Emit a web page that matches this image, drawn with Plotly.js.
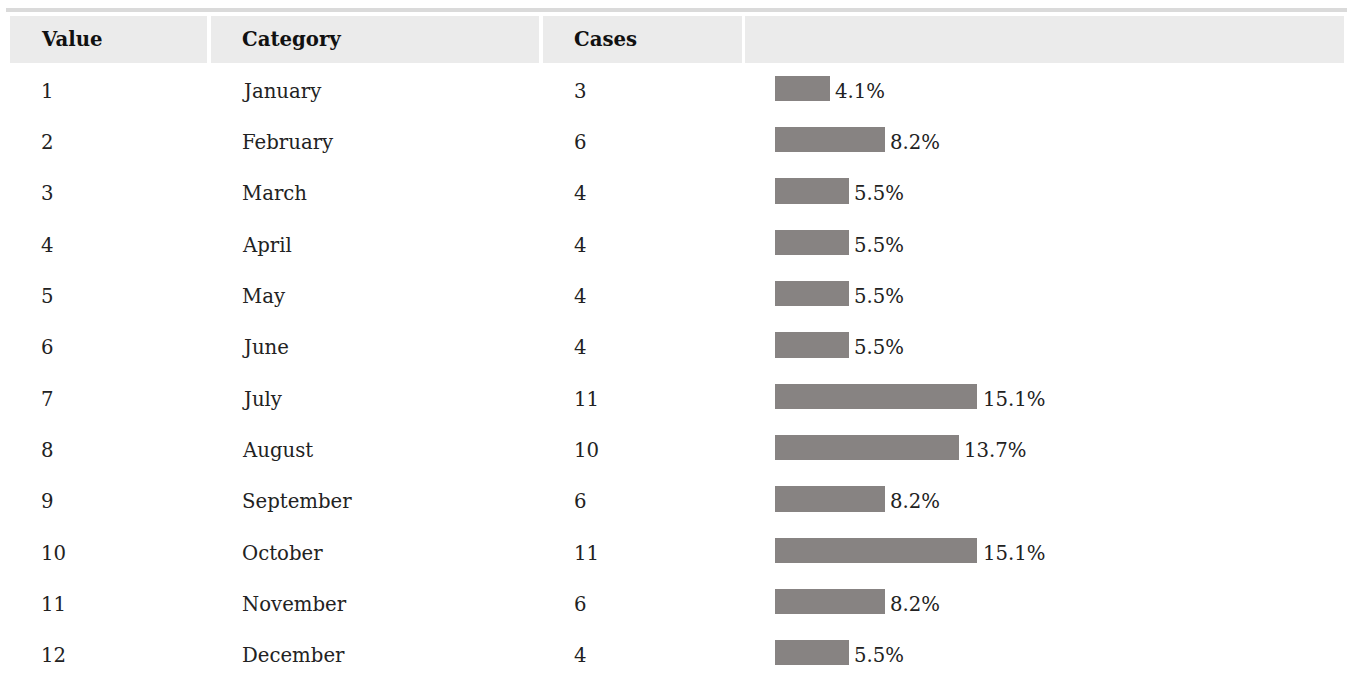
<!DOCTYPE html>
<html>
<head>
<meta charset="utf-8">
<script src="https://cdn.plot.ly/plotly-3.0.1.min.js"></script>
<style>html,body{margin:0;padding:0;background:#fff;}#chart{width:1347px;height:678px;}</style>
</head>
<body>
<div id="chart"></div>
<script>
const values = [1,2,3,4,5,6,7,8,9,10,11,12];
const categories = ["January","February","March","April","May","June","July","August","September","October","November","December"];
const cases = [3,6,4,4,4,4,11,10,6,11,6,4];
const percents = [4.1,8.2,5.5,5.5,5.5,5.5,15.1,13.7,8.2,15.1,8.2,5.5];
const headers = ["Value","Category","Cases",""];

const W = 1347, H = 678;
const FONT = "DejaVu Serif";
const FS = 19.7;
const rows = values.map((v,i)=>i);

// column geometry (pixels)
const colX = [10,211,543,745];
const colEnd = [207,539,742,1344];
const textX = [38.5,240,571.5];

const shapes = [];
shapes.push({type:'rect', xref:'x2', yref:'paper', x0:6, x1:1347, y0:1-8/H, y1:1-12/H, fillcolor:'#dadada', line:{width:0}, layer:'below'});
for (let c=0;c<4;c++){
  shapes.push({type:'rect', xref:'x2', yref:'paper', x0:colX[c], x1:colEnd[c], y0:1-16/H, y1:1-63/H, fillcolor:'#ebebeb', line:{width:0}, layer:'below'});
}

const annotations = [];
for (let c=0;c<3;c++){
  annotations.push({xref:'x2', yref:'paper', x:textX[c], y:1-40/H, xanchor:'left', yanchor:'middle', text:'<b>'+headers[c]+'</b>', showarrow:false, font:{family:FONT, size:FS, color:'#111'}});
}
const cols = [values.map(String), categories, cases.map(String)];
for (let c=0;c<3;c++){
  rows.forEach((r,i)=>{
    annotations.push({xref:'x2', yref:'y', x:textX[c], y:r, yshift:-3, xanchor:'left', yanchor:'middle', text:cols[c][i], showarrow:false, font:{family:FONT, size:FS, color:'#222'}});
  });
}
rows.forEach((r,i)=>{
  annotations.push({xref:'x', yref:'y', x:percents[i], y:r, yshift:-3, xshift:3.5, xanchor:'left', yanchor:'middle', text:percents[i].toFixed(1)+'%', showarrow:false, font:{family:FONT, size:FS, color:'#222'}});
});

const trace = {
  type:'bar', orientation:'h', x:percents, y:rows, width:0.493,
  marker:{color:'#878382', line:{width:0}}, hoverinfo:'skip', xaxis:'x', yaxis:'y'
};
const dummy = {type:'scatter', x:[0], y:[0], mode:'markers', marker:{opacity:0}, xaxis:'x2', yaxis:'y', hoverinfo:'skip', showlegend:false};

const pxPerRow = 51.32, firstCenter = 88.3;
const yTop = -firstCenter/pxPerRow, yBot = (H-firstCenter)/pxPerRow;

const layout = {
  width:W, height:H, margin:{l:0,r:0,t:0,b:0}, showlegend:false,
  paper_bgcolor:'#fff', plot_bgcolor:'rgba(0,0,0,0)',
  xaxis:{domain:[775/W, (775+40*13.4)/W], range:[0,40], visible:false, fixedrange:true},
  xaxis2:{domain:[0,1], range:[0,W], visible:false, anchor:'y', fixedrange:true},
  yaxis:{range:[yBot,yTop], visible:false, fixedrange:true},
  shapes:shapes, annotations:annotations, bargap:0
};
Plotly.newPlot('chart',[dummy,trace],layout,{displayModeBar:false, staticPlot:true});
</script>
</body>
</html>
